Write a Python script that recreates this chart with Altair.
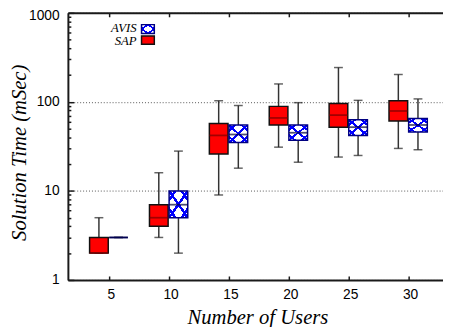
import altair as alt
import pandas as pd

# ---- data ----
users = [5, 10, 15, 20, 25, 30]

sap_low = [2, 3, 9, 31, 24, 30]
sap_q1 = [2, 4, 26, 55, 52, 61]
sap_med = [2, 5, 42, 66, 71, 79]
sap_q3 = [3, 7, 57, 89, 96, 103]
sap_high = [5, 16, 103, 159, 243, 203]

avis_low = [3, 2, 18, 21, 25, 29]
avis_q1 = [3, 5, 35, 37, 42, 46]
avis_med = [3, 7, 43, 45, 52, 55]
avis_q3 = [3, 10, 55, 55, 63, 65]
avis_high = [3, 28, 91, 98, 104, 108]

series_names = ["AVIS", "SAP"]
y_major = [1, 10, 100, 1000]
y_minor = [2, 3, 4, 5, 6, 7, 8, 9, 20, 30, 40, 50, 60, 70, 80, 90,
           200, 300, 400, 500, 600, 700, 800, 900]

sap = pd.DataFrame({"users": users, "low": sap_low, "q1": sap_q1,
                    "med": sap_med, "q3": sap_q3, "high": sap_high})
avis = pd.DataFrame({"users": users, "low": avis_low, "q1": avis_q1,
                     "med": avis_med, "q3": avis_q3, "high": avis_high})
leg_avis = pd.DataFrame({"label": [series_names[0]]})
leg_sap = pd.DataFrame({"label": [series_names[1]]})

# ---- layout / style ----
W, H = 382, 272
SERIF = "'Liberation Serif', 'Times New Roman', Times, 'DejaVu Serif', serif"
SANS = "'Liberation Sans', Arial, Helvetica, sans-serif"
AX = "#1a1a1a"
RED = "#ff0000"
BLUE = "#0000ff"
NAVY = "#000080"
BOXW = 19
OFF = 10

xs = alt.Scale(domain=[2, 32.5], nice=False, zero=False)
ys = alt.Scale(type="log", domain=[1, 1000], nice=False)


def hatch(n, flip):
    clear = "rgba(255,255,255,0)"
    stops = [{"offset": 0, "color": clear}]
    for k in range(n):
        a = (k + 0.5 - 0.12) / n
        b = (k + 0.5 + 0.12) / n
        stops += [{"offset": a, "color": clear}, {"offset": a, "color": BLUE},
                  {"offset": b, "color": BLUE}, {"offset": b, "color": clear}]
    stops.append({"offset": 1, "color": clear})
    if flip:
        return {"gradient": "linear", "x1": 1, "y1": 0, "x2": 0, "y2": 1, "stops": stops}
    return {"gradient": "linear", "x1": 0, "y1": 0, "x2": 1, "y2": 1, "stops": stops}


# ---- axes ----
x_main = alt.Axis(values=users, orient="bottom", ticks=False, labelPadding=8,
                  labelFont=SANS, labelFontSize=14, labelColor="#000", labelOffset=2,
                  domainColor=AX, domainWidth=2, grid=False,
                  title="Number of Users", titleFont=SERIF, titleFontStyle="italic",
                  titleFontWeight="normal", titleFontSize=21, titleColor="#000",
                  titleX=193, titleY=44, titleBaseline="alphabetic", titleAlign="center")
x_ticks_low = alt.Axis(orient="top", offset=-H, values=users, labels=False, domain=False,
                       grid=False, tickSize=4, tickColor=AX, tickWidth=1.5, title=None)
x_ticks_high = alt.Axis(orient="bottom", offset=-H, values=users, labels=False, domain=True,
                        domainColor=AX, domainWidth=2, grid=False, tickSize=4,
                        tickColor=AX, tickWidth=1.5, title=None)

y_main = alt.Axis(values=y_major, format="d", ticks=False, labelPadding=9,
                  labelFont=SANS, labelFontSize=14, labelColor="#000",
                  labelOffset={"condition": {"test": "datum.value >= 1000", "value": 3},
                               "value": 0},
                  domainColor=AX, domainWidth=2, grid=True, gridColor="#555",
                  gridDash=[1, 2], gridWidth=1,
                  title="Solution Time (mSec)", titleFont=SERIF, titleFontStyle="italic",
                  titleFontWeight="normal", titleFontSize=21, titleColor="#000",
                  titleX=-43, titleY=142, titleBaseline="alphabetic", titleAlign="center")
y_major_ticks = alt.Axis(orient="right", offset=-W, values=y_major, labels=False,
                         domain=False, grid=False, tickSize=6, tickColor=AX,
                         tickWidth=1.5, title=None)
y_minor_ticks = alt.Axis(orient="right", offset=-W, values=y_minor, labels=False,
                         domain=False, grid=False, tickSize=3, tickColor=AX,
                         tickWidth=1.5, title=None)


def X(axis=None):
    return alt.X("users:Q", scale=xs, axis=axis)


def Y(field, axis=None):
    return alt.Y(f"{field}:Q", scale=ys, axis=axis)


layers = []
# whiskers
layers.append(alt.Chart(sap).mark_rule(color="#333", strokeWidth=1.5, xOffset=-OFF)
              .encode(x=X(x_main), y=Y("low", y_main), y2="high:Q"))
layers.append(alt.Chart(avis).mark_rule(color="#333", strokeWidth=1.5, xOffset=OFF)
              .encode(x=X(), y=Y("low"), y2="high:Q"))
for df, sign in ((sap, -1), (avis, 1)):
    for fld in ("low", "high"):
        layers.append(alt.Chart(df).mark_tick(orient="horizontal", size=9, thickness=1.5,
                                              color="#222", xOffset=sign * OFF)
                      .encode(x=X(), y=Y(fld)))
# SAP boxes
layers.append(alt.Chart(sap).mark_bar(size=BOXW, xOffset=-OFF, fill=RED, stroke="#111",
                                      strokeWidth=1.5)
              .encode(x=X(x_ticks_low), y=Y("q1", y_major_ticks), y2="q3:Q"))
layers.append(alt.Chart(sap).mark_tick(orient="horizontal", size=BOXW, thickness=1.8,
                                       color="#7a0000", xOffset=-OFF)
              .encode(x=X(x_ticks_high), y=Y("med", y_minor_ticks)))
# AVIS boxes (crosshatch)
layers.append(alt.Chart(avis).mark_bar(size=BOXW, xOffset=OFF, fill="#ffffff")
              .encode(x=X(), y=Y("q1"), y2="q3:Q"))
layers.append(alt.Chart(avis).mark_bar(size=BOXW, xOffset=OFF, fill=hatch(3, False))
              .encode(x=X(), y=Y("q1"), y2="q3:Q"))
layers.append(alt.Chart(avis).mark_bar(size=BOXW, xOffset=OFF, fill=hatch(3, True))
              .encode(x=X(), y=Y("q1"), y2="q3:Q"))
layers.append(alt.Chart(avis).mark_bar(size=BOXW, xOffset=OFF, fill="#ffffff", fillOpacity=0,
                                       stroke=NAVY, strokeWidth=1.5)
              .encode(x=X(), y=Y("q1"), y2="q3:Q"))
layers.append(alt.Chart(avis).mark_tick(orient="horizontal", size=BOXW, thickness=1.8,
                                        color="#00003a", xOffset=OFF)
              .encode(x=X(), y=Y("med")))

# legend (inside the plot, top-left)
text_style = dict(align="right", baseline="alphabetic", font=SERIF, fontStyle="italic",
                  fontSize=13, color="#000")
layers.append(alt.Chart(leg_avis).mark_text(**text_style)
              .encode(text="label:N", x=alt.value(70), y=alt.value(19)))
layers.append(alt.Chart(leg_sap).mark_text(**text_style)
              .encode(text="label:N", x=alt.value(70), y=alt.value(32.5)))
sw_avis = dict(x=alt.value(75), x2=alt.value(88), y=alt.value(12), y2=alt.value(21))
sw_sap = dict(x=alt.value(75), x2=alt.value(88), y=alt.value(23.5), y2=alt.value(32))
layers.append(alt.Chart(leg_avis).mark_rect(fill="#ffffff").encode(**sw_avis))
layers.append(alt.Chart(leg_avis).mark_rect(fill=hatch(2, False)).encode(**sw_avis))
layers.append(alt.Chart(leg_avis).mark_rect(fill=hatch(2, True)).encode(**sw_avis))
layers.append(alt.Chart(leg_avis).mark_rect(fill="#ffffff", fillOpacity=0, stroke=NAVY,
                                            strokeWidth=1.5).encode(**sw_avis))
layers.append(alt.Chart(leg_sap).mark_rect(fill=RED, stroke="#111", strokeWidth=1.5)
              .encode(**sw_sap))

chart = (alt.layer(*layers)
         .resolve_axis(x="independent", y="independent")
         .properties(width=W, height=H,
                     autosize=alt.AutoSizeParams(type="none"),
                     padding={"left": 61, "top": 2, "right": 0, "bottom": 45},
                     background="#ffffff")
         .configure_view(stroke=None))

chart.save("out.html", embed_options={"renderer": "svg", "actions": False})
